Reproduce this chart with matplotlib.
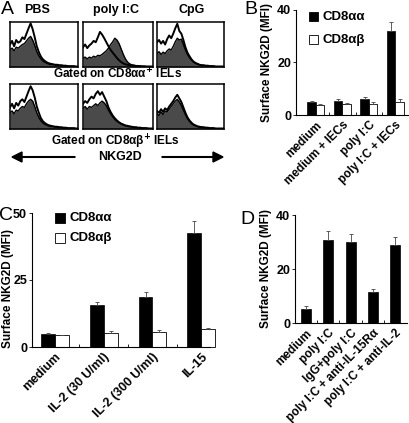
import numpy as np
import matplotlib
matplotlib.use("Agg")
import matplotlib.pyplot as plt
from matplotlib.patches import Rectangle, FancyArrow

W, H = 410, 423

# ---- panel A: flow histograms (open line, filled gray) ----
line_a1 = [0.50,0.58,0.46,0.60,0.54,0.57,0.66,0.62,0.74,0.86,0.97,0.84,0.66,0.46,0.33,0.23,0.17,0.13,0.10,0.08,0.07,0.06,0.05,0.05,0.04,0.04,0.03,0.03,0.02,0.02,0.02,0.02,0.01,0.01]
gray_a1 = [0.38,0.42,0.36,0.44,0.42,0.46,0.50,0.52,0.58,0.64,0.68,0.60,0.48,0.34,0.25,0.18,0.13,0.10,0.08,0.06,0.05,0.05,0.04,0.04,0.03,0.03,0.02,0.02,0.02,0.01,0.01,0.01,0.01,0.01]
line_a2 = [0.44,0.50,0.42,0.48,0.52,0.58,0.55,0.66,0.78,0.72,0.64,0.55,0.46,0.38,0.32,0.26,0.20,0.15,0.11,0.08,0.06,0.05,0.04,0.03,0.03,0.02,0.02,0.02,0.01,0.01,0.01,0.01,0.01,0.01]
gray_a2 = [0.20,0.22,0.18,0.22,0.20,0.24,0.22,0.26,0.25,0.28,0.32,0.36,0.42,0.50,0.56,0.64,0.60,0.52,0.40,0.28,0.18,0.11,0.07,0.05,0.04,0.03,0.03,0.02,0.02,0.02,0.01,0.01,0.01,0.01]
line_a3 = [0.55,0.60,0.52,0.58,0.50,0.62,0.70,0.64,0.74,0.86,0.96,0.80,0.74,0.60,0.44,0.32,0.24,0.17,0.12,0.09,0.07,0.05,0.04,0.04,0.03,0.03,0.02,0.02,0.02,0.01,0.01,0.01,0.01,0.01]
gray_a3 = [0.30,0.34,0.28,0.33,0.30,0.36,0.40,0.38,0.46,0.56,0.64,0.60,0.62,0.50,0.38,0.28,0.21,0.15,0.11,0.08,0.06,0.05,0.04,0.03,0.03,0.02,0.02,0.02,0.01,0.01,0.01,0.01,0.01,0.01]
line_b1 = [0.48,0.56,0.46,0.58,0.52,0.62,0.66,0.60,0.72,0.84,0.95,0.86,0.70,0.50,0.36,0.24,0.17,0.13,0.10,0.08,0.07,0.06,0.05,0.05,0.04,0.04,0.03,0.03,0.02,0.02,0.02,0.02,0.01,0.01]
gray_b1 = [0.36,0.40,0.34,0.42,0.40,0.46,0.50,0.48,0.56,0.62,0.66,0.62,0.50,0.36,0.26,0.18,0.13,0.10,0.08,0.06,0.05,0.05,0.04,0.04,0.03,0.03,0.02,0.02,0.02,0.01,0.01,0.01,0.01,0.01]
line_b2 = [0.56,0.62,0.58,0.66,0.72,0.68,0.78,0.84,0.76,0.82,0.72,0.62,0.48,0.38,0.30,0.24,0.19,0.15,0.12,0.10,0.08,0.07,0.06,0.05,0.04,0.04,0.03,0.03,0.02,0.02,0.02,0.01,0.01,0.01]
gray_b2 = [0.46,0.50,0.44,0.50,0.48,0.52,0.56,0.52,0.58,0.62,0.58,0.52,0.42,0.34,0.27,0.21,0.17,0.14,0.11,0.09,0.07,0.06,0.05,0.04,0.04,0.03,0.03,0.02,0.02,0.02,0.01,0.01,0.01,0.01]
line_b3 = [0.40,0.36,0.44,0.38,0.46,0.42,0.50,0.56,0.62,0.70,0.76,0.68,0.60,0.48,0.36,0.26,0.19,0.14,0.10,0.08,0.06,0.05,0.04,0.04,0.03,0.03,0.02,0.02,0.02,0.01,0.01,0.01,0.01,0.01]
gray_b3 = [0.34,0.30,0.38,0.32,0.40,0.38,0.44,0.50,0.56,0.62,0.66,0.60,0.52,0.42,0.32,0.23,0.17,0.12,0.09,0.07,0.05,0.04,0.04,0.03,0.03,0.02,0.02,0.02,0.01,0.01,0.01,0.01,0.01,0.01]
hist_cols = ["PBS", "poly I:C", "CpG"]

# ---- panel B ----
b_cats = ["medium", "medium + IECs", "poly I:C", "poly I:C + IECs"]
b_aa = [4.8, 5.5, 6.1, 32.0]
b_aa_err = [0.4, 0.5, 0.7, 3.5]
b_ab = [3.9, 4.3, 4.3, 5.1]
b_ab_err = [0.4, 0.4, 0.5, 1.0]

# ---- panel C ----
c_cats = ["medium", "IL-2 (30 U/ml)", "IL-2 (300 U/ml)", "IL-15"]
c_aa = [4.8, 15.6, 18.8, 42.5]
c_aa_err = [0.4, 1.3, 1.8, 4.4]
c_ab = [4.3, 5.1, 5.6, 6.6]
c_ab_err = [0.3, 0.8, 0.6, 0.5]

# ---- panel D ----
d_cats = ["medium", "poly I:C", "IgG+poly I:C", "poly I:C + anti-IL-15R\u03b1", "poly I:C + anti-IL-2"]
d_vals = [5.3, 30.8, 29.9, 11.4, 28.9]
d_err = [1.1, 3.3, 3.2, 1.1, 2.9]

plt.rcParams['font.family'] = ['Liberation Sans', 'DejaVu Sans']
plt.rcParams['font.weight'] = 'bold'

fig = plt.figure(figsize=(W / 100, H / 100), dpi=100)


def px_axes(x0, y0, x1, y1):
    return fig.add_axes([x0 / W, 1 - y1 / H, (x1 - x0) / W, (y1 - y0) / H])


def ftext(x, y, s, **kw):
    fig.text(x / W, 1 - y / H, s, **kw)


# histograms
hist_boxes = [(10, 22, 78, 67), (83, 22, 153, 67), (157, 22, 224, 67),
              (10, 84, 78, 129), (83, 84, 153, 129), (157, 84, 224, 129)]
hist_data = [(line_a1, gray_a1), (line_a2, gray_a2), (line_a3, gray_a3),
             (line_b1, gray_b1), (line_b2, gray_b2), (line_b3, gray_b3)]
for box, (ln, gr) in zip(hist_boxes, hist_data):
    ax = px_axes(*box)
    xs = np.linspace(0, 1, len(ln))
    ax.fill_between(xs, 0, gr, color='#4a4a4a', lw=0)
    ax.plot(xs, gr, color='black', lw=1.0)
    ax.plot(xs, ln, color='black', lw=1.4)
    ax.set_xlim(0, 1)
    ax.set_ylim(0, 1)
    ax.set_xticks([])
    ax.set_yticks([])
    for s in ax.spines.values():
        s.set_linewidth(1.1)

for name, cx in zip(hist_cols, [37, 116, 192]):
    ftext(cx, 10, name, ha='center', va='center', fontsize=9)
ftext(118, 74, "Gated on CD8\u03b1\u03b1$^{+}$ IELs", ha='center', va='center', fontsize=8.5)
ftext(115, 142, "Gated on CD8\u03b1\u03b2$^{+}$ IELs", ha='center', va='center', fontsize=8.5)
ftext(120, 157, "NKG2D", ha='center', va='center', fontsize=9)
fig.add_artist(FancyArrow(75 / W, 1 - 157 / H, -63 / W, 0, width=0.7 / H,
                          head_width=10 / H, head_length=10 / W, length_includes_head=True,
                          color='black', transform=fig.transFigure))
fig.add_artist(FancyArrow(162 / W, 1 - 157 / H, 61 / W, 0, width=0.7 / H,
                          head_width=10 / H, head_length=10 / W, length_includes_head=True,
                          color='black', transform=fig.transFigure))

err_kw = dict(ecolor='#444444', elinewidth=0.6, capsize=1.5, capthick=0.6)


def style_bar_axes(ax, cats, pos, yt, fs_tick=8.5):
    for s in ['top', 'right']:
        ax.spines[s].set_visible(False)
    for s in ['left', 'bottom']:
        ax.spines[s].set_linewidth(0.8)
    ax.set_yticks(yt)
    ax.set_yticklabels([str(v) for v in yt], fontsize=9)
    ax.tick_params(axis='y', direction='out', length=2, width=0.6, pad=1.5)
    ax.set_xticks(pos)
    ax.set_xticklabels(cats, rotation=45, ha='right', rotation_mode='anchor', fontsize=fs_tick)
    ax.tick_params(axis='x', length=0, pad=3)
    ax.set_xticks(pos[:-1] + 0.5, minor=True)
    ax.tick_params(axis='x', which='minor', direction='in', length=2.5, width=0.6)


def legend_px(x, y1, y2, size):
    for yy, fc, lab in [(y1, 'black', "CD8\u03b1\u03b1"), (y2, 'white', "CD8\u03b1\u03b2")]:
        fig.add_artist(Rectangle((x / W, 1 - (yy + size / 2) / H), size / W, size / H,
                                 facecolor=fc, edgecolor='black', lw=0.6,
                                 transform=fig.transFigure))
        ftext(x + size + 5, yy, lab, ha='left', va='center', fontsize=9.5)


# panel B
axb = px_axes(296, 10, 410, 115)
pos = np.arange(len(b_cats))
w = 0.32
n = len(b_cats)
axb.bar(pos - w / 2, b_aa, w, color='black', edgecolor='black', lw=0.5,
        yerr=[np.zeros(n), b_aa_err], error_kw=err_kw)
axb.bar(pos + w / 2, b_ab, w, color='white', edgecolor='black', lw=0.6,
        yerr=[np.zeros(n), b_ab_err], error_kw=err_kw)
axb.set_ylim(0, 40)
axb.set_xlim(-0.75, 3.55)
style_bar_axes(axb, b_cats, pos, [0, 20, 40])
ftext(267, 62, "Surface NKG2D (MFI)", rotation=90, ha='center', va='center', fontsize=8.5)
legend_px(309, 17, 40, 9)

# panel C
axc = px_axes(32, 213, 210, 347)
pos = np.arange(len(c_cats))
w = 0.285
n = len(c_cats)
axc.bar(pos - w / 2, c_aa, w, color='black', edgecolor='black', lw=0.5,
        yerr=[np.zeros(n), c_aa_err], error_kw=err_kw, clip_on=False)
axc.bar(pos + w / 2, c_ab, w, color='white', edgecolor='black', lw=0.6,
        yerr=[np.zeros(n), c_ab_err], error_kw=err_kw, clip_on=False)
axc.set_ylim(0, 50)
axc.set_xlim(-0.47, 3.18)
style_bar_axes(axc, c_cats, pos, [0, 25, 50], fs_tick=9)
ftext(8, 289, "Surface NKG2D (MFI)", rotation=90, ha='center', va='center', fontsize=8.5)
legend_px(55, 218, 238, 10)

# panel D
axd = px_axes(295, 215, 407, 323)
pos = np.arange(len(d_cats))
n = len(d_cats)
axd.bar(pos, d_vals, 0.45, color='black', edgecolor='black', lw=0.5,
        yerr=[np.zeros(n), d_err], error_kw=err_kw)
axd.set_ylim(0, 40)
axd.set_xlim(-0.49, 4.53)
style_bar_axes(axd, d_cats, pos, [0, 20, 40])
ftext(266, 268, "Surface NKG2D (MFI)", rotation=90, ha='center', va='center', fontsize=8.5)

# panel letters
for lab, x, y in [("A", 7, 9), ("B", 251, 9), ("C", 6, 215), ("D", 247, 219)]:
    ftext(x, y, lab, ha='center', va='center', fontsize=14, fontweight='normal')

fig.savefig("out.png", dpi=100, facecolor='white')
